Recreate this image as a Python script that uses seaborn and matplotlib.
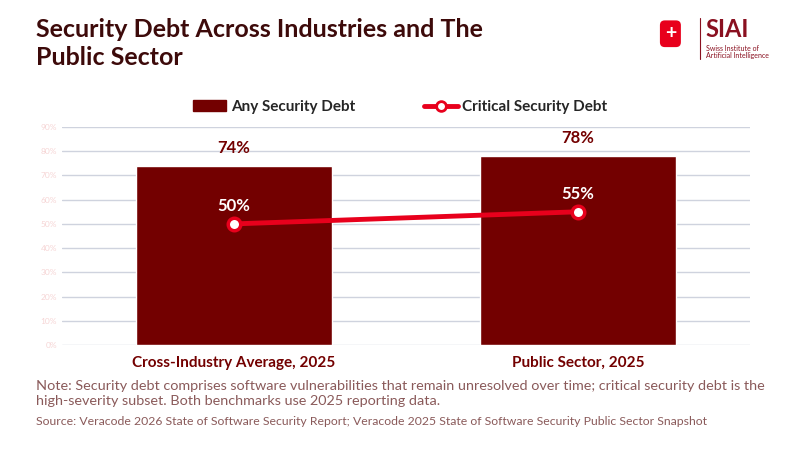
import matplotlib
matplotlib.use("Agg")
import matplotlib.pyplot as plt
import matplotlib.patches as mpatches
from matplotlib.lines import Line2D
from matplotlib.ticker import PercentFormatter
import pandas as pd
import seaborn as sns

categories = ["Cross-Industry Average, 2025", "Public Sector, 2025"]
any_debt = [74, 78]
critical_debt = [50, 55]
y_ticks = [0, 10, 20, 30, 40, 50, 60, 70, 80, 90]

dark_red = "#730000"
bright_red = "#e8001c"

sns.set_theme(style="white")
plt.rcParams['font.family'] = ['Lato', 'DejaVu Sans']

df = pd.DataFrame({"cat": categories, "any": any_debt, "crit": critical_debt})

fig = plt.figure(figsize=(8, 4.5), dpi=100)
ax = fig.add_axes([0.0775, 0.233, 0.86, 0.485])

sns.barplot(data=df, x="cat", y="any", color=dark_red, width=0.57,
            saturation=1, ax=ax, zorder=2)
ax.plot(range(len(categories)), critical_debt, color=bright_red, lw=3.5,
        marker="o", ms=9, markerfacecolor="white", markeredgecolor=bright_red,
        markeredgewidth=2.5, zorder=4)

for i, v in enumerate(any_debt):
    ax.text(i, v + 4, f"{v}%", ha="center", va="bottom", color=dark_red,
            fontsize=12, fontweight="bold")
for i, v in enumerate(critical_debt):
    ax.text(i, v + 4, f"{v}%", ha="center", va="bottom", color="white",
            fontsize=12, fontweight="bold", zorder=5)

ax.set_ylim(0, 90)
ax.set_xlim(-0.5, 1.5)
ax.set_yticks(y_ticks)
ax.yaxis.set_major_formatter(PercentFormatter(decimals=0))
ax.tick_params(axis="y", labelsize=6, labelcolor="#f6d5d5", length=0)
ax.tick_params(axis="x", labelsize=11, labelcolor=dark_red, length=0, pad=8)
for lab in ax.get_xticklabels():
    lab.set_fontweight("bold")
ax.grid(axis="y", color="#cfd3de", lw=1, zorder=0)
ax.set_axisbelow(True)
ax.set_xlabel("")
ax.set_ylabel("")
for s in ax.spines.values():
    s.set_visible(False)

handles = [mpatches.Patch(color=dark_red, label="Any Security Debt"),
           Line2D([0], [0], color=bright_red, lw=3.5, marker="o", ms=7,
                  markerfacecolor="white", markeredgecolor=bright_red,
                  markeredgewidth=2, label="Critical Security Debt")]
leg = fig.legend(handles=handles, loc="center", bbox_to_anchor=(0.5, 0.762),
                 ncol=2, frameon=False, fontsize=11, columnspacing=4.5,
                 handlelength=2.2, handletextpad=0.3)
for t in leg.get_texts():
    t.set_fontweight("bold")

fig.text(0.045, 0.96, "Security Debt Across Industries and The\nPublic Sector",
         ha="left", va="top", fontsize=18, fontweight="bold", color="#3d0a0a",
         linespacing=1.25)

# logo
fig.text(0.838, 0.925, "+", ha="center", va="center", fontsize=14,
         fontweight="bold", color="white",
         bbox=dict(boxstyle="round,pad=0.25", fc=bright_red, ec="none"))
fig.text(0.882, 0.935, "SIAI", ha="left", va="center", fontsize=17,
         fontweight="bold", color="#8a1020")
fig.text(0.882, 0.885, "Swiss Institute of\nArtificial Intelligence", ha="left",
         va="center", fontsize=5, color="#8a1020", linespacing=1.0)
fig.add_artist(Line2D([0.875, 0.875], [0.87, 0.96], color="#8a1020", lw=0.8))

fig.text(0.045, 0.155, "Note: Security debt comprises software vulnerabilities that remain unresolved over time; critical security debt is the\nhigh-severity subset. Both benchmarks use 2025 reporting data.",
         ha="left", va="top", fontsize=10.4, color="#8a5a5a", linespacing=1.3)
fig.text(0.045, 0.075, "Source: Veracode 2026 State of Software Security Report; Veracode 2025 State of Software Security Public Sector Snapshot",
         ha="left", va="top", fontsize=8.8, color="#8a5a5a")

fig.savefig("out.png", dpi=100)
